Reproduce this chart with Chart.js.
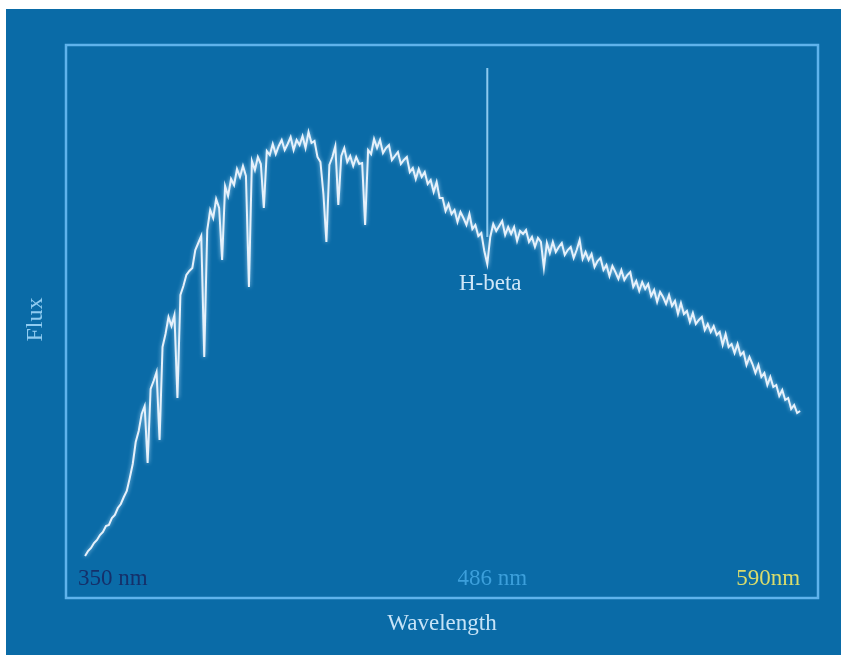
<!DOCTYPE html>
<html>
<head>
<meta charset="utf-8">
<script src="https://cdn.jsdelivr.net/npm/chart.js@4/dist/chart.umd.min.js"></script>
<style>
  html, body { margin: 0; padding: 0; background: #ffffff; width: 841px; height: 655px; overflow: hidden; }
  #wrap { position: absolute; left: 6px; top: 9px; width: 835px; height: 646px; background: #0a6ba7; }
  canvas { display: block; }
</style>
</head>
<body>
<div id="wrap"><canvas id="c"></canvas></div>
<script>
// Wavelength grid (nm)
const wavelengths = [
350,351,352,353,354,355,356,357,358,359,360,361,362,363,364,365,366,367,368,369,
370,371,372,373,374,375,376,377,378,379,380,381,382,383,384,385,386,387,388,389,
390,391,392,393,394,395,396,397,398,399,400,401,402,403,404,405,406,407,408,409,
410,411,412,413,414,415,416,417,418,419,420,421,422,423,424,425,426,427,428,429,
430,431,432,433,434,435,436,437,438,439,440,441,442,443,444,445,446,447,448,449,
450,451,452,453,454,455,456,457,458,459,460,461,462,463,464,465,466,467,468,469,
470,471,472,473,474,475,476,477,478,479,480,481,482,483,484,485,486,487,488,489,
490,491,492,493,494,495,496,497,498,499,500,501,502,503,504,505,506,507,508,509,
510,511,512,513,514,515,516,517,518,519,520,521,522,523,524,525,526,527,528,529,
530,531,532,533,534,535,536,537,538,539,540,541,542,543,544,545,546,547,548,549,
550,551,552,553,554,555,556,557,558,559,560,561,562,563,564,565,566,567,568,569,
570,571,572,573,574,575,576,577,578,579,580,581,582,583,584,585,586,587,588,589,
590];

// Relative flux (arbitrary units)
const flux = [
42,47,50,55,58,63,66,72,73,80,83,90,94,101,107,120,134,156,167,184,
192,135,209,217,226,158,251,264,281,272,283,200,303,312,323,327,330,348,355,362,
241,368,388,380,399,390,338,412,402,419,413,429,421,432,422,311,437,428,441,434,
390,447,443,454,444,452,458,448,454,461,448,458,453,462,450,466,455,457,441,436,
404,356,433,441,452,393,442,450,436,442,432,441,434,435,373,448,444,459,450,458,
445,450,453,438,442,446,434,438,441,426,430,419,429,421,426,414,418,406,416,400,
400,387,394,384,388,376,386,380,373,384,369,373,362,365,347,334,361,374,367,372,
377,363,371,364,371,357,367,364,368,356,361,351,360,356,330,355,345,356,346,351,
355,343,348,351,340,348,358,339,346,338,344,331,337,340,328,333,322,332,326,319,
328,318,323,326,311,317,307,316,309,314,302,308,296,306,301,294,303,292,297,284,
295,284,287,276,285,274,278,281,268,274,266,272,263,266,253,264,251,254,245,254,
243,246,233,241,234,225,233,221,225,213,221,211,213,202,208,198,200,189,193,185,
187];

// Axis range and labels
const xMin = 343.6, xMax = 596;
const yMin = 0, yMax = 553;
const tickValues = [350, 486, 590];
const tickLabels = ['350 nm', '486 nm', '590nm'];
const xTitle = 'Wavelength';
const yTitle = 'Flux';

// H-beta marker
const hbetaLabel = 'H-beta';
const hbetaNm = 485;
const hbetaFlux = [530, 361];
const hbetaTextPos = { x: 486, y: 308 };

const spectrum = wavelengths.map((w, i) => ({ x: w, y: flux[i] }));
const hbetaLine = hbetaFlux.map(f => ({ x: hbetaNm, y: f }));

const decorPlugin = {
  id: 'decor',
  beforeDatasetsDraw(chart) {
    const ctx = chart.ctx, a = chart.chartArea;
    ctx.save();
    ctx.strokeStyle = '#5fb3ec';
    ctx.lineWidth = 2.5;
    ctx.strokeRect(a.left, a.top, a.right - a.left, a.bottom - a.top);
    ctx.restore();
  },
  beforeDatasetDraw(chart, args) {
    if (args.index === 0) {
      chart.ctx.save();
      chart.ctx.shadowColor = 'rgba(170,215,245,0.9)';
      chart.ctx.shadowBlur = 4;
    }
  },
  afterDatasetDraw(chart, args) {
    if (args.index === 0) chart.ctx.restore();
  },
  afterDatasetsDraw(chart) {
    const ctx = chart.ctx, a = chart.chartArea;
    const xs = chart.scales.x, ys = chart.scales.y;
    ctx.save();
    ctx.font = '23px "Liberation Serif", serif';
    ctx.textBaseline = 'alphabetic';
    const colors = ['#15306a', '#3c9fdb', '#d9dc6c'];
    const aligns = ['left', 'center', 'right'];
    const offs = [-7, 2, 0];
    tickValues.forEach((v, i) => {
      ctx.fillStyle = colors[i];
      ctx.textAlign = aligns[i];
      ctx.fillText(tickLabels[i], xs.getPixelForValue(v) + offs[i], a.bottom - 13);
    });
    // H-beta label
    ctx.fillStyle = '#cfe6f7';
    ctx.textAlign = 'center';
    ctx.fillText(hbetaLabel, xs.getPixelForValue(hbetaTextPos.x), ys.getPixelForValue(hbetaTextPos.y));
    // x title
    ctx.fillStyle = '#c6e3f7';
    ctx.fillText(xTitle, (a.left + a.right) / 2, a.bottom + 32);
    // y title
    ctx.translate(36, (a.top + a.bottom) / 2 - 2);
    ctx.rotate(-Math.PI / 2);
    ctx.fillStyle = '#8fcbf0';
    ctx.font = '24px "Liberation Serif", serif';
    ctx.fillText(yTitle, 0, 0);
    ctx.restore();
  }
};

new Chart(document.getElementById('c'), {
  type: 'line',
  data: {
    datasets: [
      {
        label: 'Spectrum',
        data: spectrum,
        borderColor: '#e6f1fb',
        borderWidth: 2,
        pointRadius: 0,
        tension: 0,
        fill: false
      },
      {
        label: hbetaLabel,
        data: hbetaLine,
        borderColor: '#8cc9ef',
        borderWidth: 2,
        pointRadius: 0,
        fill: false
      }
    ]
  },
  options: {
    responsive: true,
    maintainAspectRatio: false,
    animation: false,
    layout: { padding: { left: 60, top: 36, right: 23, bottom: 57 } },
    plugins: { legend: { display: false }, tooltip: { enabled: false } },
    scales: {
      x: { type: 'linear', min: xMin, max: xMax, display: false },
      y: { type: 'linear', min: yMin, max: yMax, display: false }
    }
  },
  plugins: [decorPlugin]
});
</script>
</body>
</html>
